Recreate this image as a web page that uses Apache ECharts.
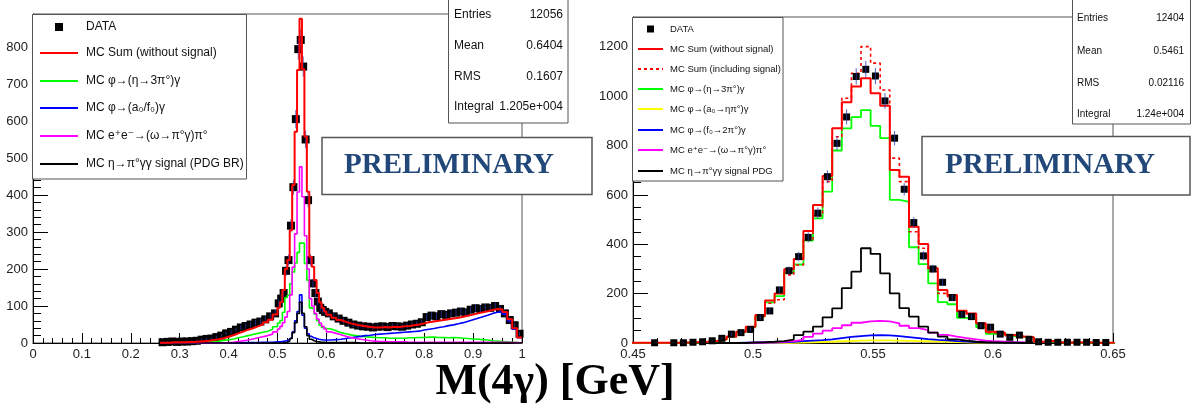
<!DOCTYPE html>
<html>
<head>
<meta charset="utf-8">
<script src="https://cdn.jsdelivr.net/npm/echarts@6/dist/echarts.min.js"></script>
<style>
  html, body { margin: 0; padding: 0; background: #fff; }
  #chart { width: 1198px; height: 405px; }
</style>
</head>
<body>
<div id="chart"></div>
<script>
// ---- left panel: full M(4g) range, finer bins around the eta peak ----
const leftEdges = [
  0.26, 0.27, 0.28, 0.29, 0.30, 0.31, 0.32, 0.33, 0.34, 0.35, 0.36, 0.37, 0.38,
  0.39, 0.40, 0.41, 0.42, 0.43, 0.44, 0.45, 0.46, 0.47, 0.48, 0.49, 0.50,
  0.505, 0.51, 0.515, 0.52, 0.525, 0.53, 0.535, 0.54, 0.545, 0.55,
  0.555, 0.56, 0.565, 0.57, 0.575, 0.58, 0.585, 0.59, 0.595, 0.60,
  0.61, 0.62, 0.63, 0.64, 0.65, 0.66, 0.67, 0.68, 0.69, 0.70,
  0.71, 0.72, 0.73, 0.74, 0.75, 0.76, 0.77, 0.78, 0.79, 0.80,
  0.81, 0.82, 0.83, 0.84, 0.85, 0.86, 0.87, 0.88, 0.89, 0.90,
  0.91, 0.92, 0.93, 0.94, 0.95, 0.96, 0.97, 0.98, 0.99, 1.00
];
const leftData = [
  2, 3, 4, 3, 4, 4, 5, 6, 9, 11, 12, 16, 20, 26, 30, 36, 42, 46, 50, 55, 58, 64, 72, 80,
  107, 120, 135, 195, 224, 317, 421, 605, 794, 819, 747, 550, 386, 224, 161, 135, 112, 95, 89, 84,
  80, 72, 66, 60, 55, 50, 47, 45, 44, 42, 44, 45, 43, 46, 45, 44, 47, 50, 52, 56,
  70, 74, 72, 78, 76, 80, 82, 85, 83, 90, 94, 92, 96, 95, 100, 92, 80, 62, 48, 25
];
const leftSum = [
  1, 1, 2, 2, 2, 3, 3, 4, 5, 6, 8, 10, 13, 17, 21, 26, 31, 36, 40, 45, 50, 56, 63, 77,
  95, 110, 143, 200, 224, 305, 427, 571, 738, 876, 740, 558, 409, 233, 206, 170, 135, 110, 95, 85,
  76, 68, 62, 57, 53, 50, 47, 45, 43, 42, 42, 43, 42, 44, 43, 45, 46, 48, 50, 53,
  56, 58, 60, 62, 64, 66, 68, 71, 74, 77, 80, 83, 86, 89, 92, 91, 84, 64, 40, 15
];
const leftEta3pi = [
  0, 0, 0, 0, 0, 0, 0, 1, 2, 3, 4, 5, 7, 9, 11, 14, 17, 20, 23, 26, 29, 32, 37, 44,
  54, 61, 83, 123, 129, 160, 192, 216, 245, 270, 270, 215, 170, 95, 92, 78, 60, 48, 42, 39,
  38, 33, 28, 25, 22, 20, 18, 17, 16, 15, 14, 14, 13, 13, 13, 13, 14, 14, 15, 15,
  16, 16, 15, 15, 14, 15, 14, 13, 12, 11, 10, 9, 8, 6, 5, 4, 3, 2, 1, 0
];
const leftA0f0 = [
  0, 0, 0, 0, 0, 0, 0, 0, 0, 0, 0, 0, 0, 0, 0, 0, 1, 1, 1, 1, 2, 2, 2, 3,
  3, 4, 5, 7, 10, 15, 30, 60, 85, 130, 75, 40, 25, 18, 14, 12, 10, 9, 8, 8,
  8, 9, 10, 12, 14, 16, 18, 20, 21, 23, 24, 25, 26, 27, 28, 29, 30, 31, 32, 35,
  37, 39, 42, 44, 47, 49, 52, 55, 59, 63, 67, 71, 75, 80, 83, 84, 78, 60, 37, 14
];
const leftOmega = [
  0, 0, 0, 0, 0, 0, 0, 0, 0, 0, 0, 0, 0, 1, 2, 4, 6, 8, 11, 14, 17, 20, 24, 30,
  38, 45, 55, 70, 85, 130, 205, 295, 408, 476, 395, 290, 200, 120, 100, 80, 65, 54, 45, 38,
  30, 26, 22, 18, 15, 12, 10, 8, 6, 5, 4, 4, 3, 3, 3, 3, 2, 2, 2, 2,
  2, 2, 2, 2, 2, 2, 2, 2, 2, 2, 2, 2, 2, 2, 2, 2, 2, 1, 1, 0
];
const leftSignal = [
  0, 0, 0, 0, 0, 0, 0, 0, 0, 0, 0, 0, 0, 0, 0, 0, 0, 0, 0, 0, 0, 0, 0, 0,
  0, 0, 1, 2, 5, 12, 28, 55, 80, 110, 80, 44, 20, 10, 6, 4, 3, 2, 2, 1,
  1, 1, 1, 1, 1, 1, 0, 0, 0, 0, 0, 0, 0, 0, 0, 0, 0, 0, 0, 0,
  0, 0, 0, 0, 0, 0, 0, 0, 0, 0, 0, 0, 0, 0, 0, 0, 0, 0, 0, 0
];

// ---- right panel: zoom on the eta peak, 0.004 wide bins ----
const rightBinStart = 0.449;
const rightBinWidth = 0.004;
const rightData = [
  0, 0, 1, 0, 1, 1, 3, 5, 9, 19, 36, 42, 55, 103, 130, 215, 293, 350, 428, 526,
  674, 809, 916, 1080, 1109, 1082, 981, 830, 623, 488, 353, 300, 246, 184, 116, 107, 70, 64, 36, 23,
  32, 15, 5, 3, 3, 3, 3, 3, 2, 2, 0
];
const rightSum = [
  1, 1, 1, 1, 1, 2, 3, 5, 8, 15, 26, 46, 66, 113, 172, 201, 299, 340, 454, 559,
  677, 870, 976, 1039, 1073, 1012, 961, 701, 674, 471, 401, 303, 215, 195, 131, 120, 80, 46, 42, 32,
  26, 23, 5, 8, 2, 2, 2, 2, 1, 1, 1
];
const rightSumSignal = [
  1, 1, 1, 1, 1, 2, 3, 5, 8, 15, 25, 45, 62, 108, 161, 175, 276, 316, 420, 516,
  654, 836, 992, 1093, 1201, 1134, 1025, 749, 654, 451, 384, 290, 201, 188, 123, 114, 74, 42, 40, 30,
  25, 22, 5, 7, 2, 2, 2, 2, 1, 1, 1
];
const rightEta3pi = [
  0, 0, 0, 0, 1, 1, 2, 4, 7, 14, 25, 44, 63, 108, 165, 190, 285, 318, 415, 505,
  613, 780, 870, 915, 944, 880, 830, 580, 572, 388, 320, 242, 166, 157, 102, 97, 64, 37, 36, 28,
  24, 22, 4, 6, 2, 1, 1, 1, 1, 0, 0
];
const rightA0 = [
  0, 0, 0, 0, 0, 0, 0, 0, 0, 0, 0, 0, 0, 0, 0, 0, 1, 2, 3, 4,
  5, 7, 8, 10, 11, 11, 11, 10, 9, 8, 7, 6, 5, 4, 3, 2, 2, 1, 1, 1,
  0, 0, 0, 0, 0, 0, 0, 0, 0, 0, 0
];
const rightF0 = [
  0, 0, 0, 0, 0, 0, 0, 0, 0, 0, 0, 1, 1, 2, 2, 3, 5, 8, 10, 12,
  15, 20, 25, 28, 31, 32, 31, 28, 24, 20, 16, 13, 11, 8, 6, 4, 3, 2, 2, 1,
  1, 1, 1, 0, 0, 0, 0, 0, 0, 0, 0
];
const rightOmega = [
  0, 0, 0, 0, 0, 0, 0, 0, 0, 0, 0, 0, 1, 2, 3, 5, 8, 14, 25, 38,
  50, 60, 72, 82, 88, 90, 88, 80, 70, 60, 52, 42, 33, 26, 20, 15, 10, 7, 5, 3,
  2, 1, 1, 1, 1, 0, 0, 0, 0, 0, 0
];
const rightSignal = [
  0, 0, 0, 0, 0, 0, 0, 0, 0, 0, 0, 0, 2, 3, 5, 8, 14, 32, 46, 66,
  104, 140, 222, 289, 384, 361, 282, 201, 141, 107, 66, 42, 26, 15, 10, 5, 3, 2, 1, 1,
  0, 0, 0, 0, 0, 0, 0, 0, 0, 0, 0
];

const leftStats = [["Entries", "12056"], ["Mean", "0.6404"], ["RMS", "0.1607"], ["Integral", "1.205e+004"]];
const rightStats = [["Entries", "12404"], ["Mean", "0.5461"], ["RMS", "0.02116"], ["Integral", "1.24e+004"]];

const RED = "#ff0000", GREEN = "#00ff00", BLUE = "#0000ff", MAGENTA = "#ff00ff", YELLOW = "#ffff00", BLACK = "#000000";

const leftLegend = [
  { text: "DATA", marker: true },
  { text: "MC Sum (without signal)", color: RED },
  { text: "MC \u03c6\u2192(\u03b7\u21923\u03c0\u00b0)\u03b3", color: GREEN },
  { text: "MC \u03c6\u2192(a\u2080/f\u2080)\u03b3", color: BLUE },
  { text: "MC e\u207ae\u207b\u2192(\u03c9\u2192\u03c0\u00b0\u03b3)\u03c0\u00b0", color: MAGENTA },
  { text: "MC \u03b7\u2192\u03c0\u00b0\u03b3\u03b3 signal (PDG BR)", color: BLACK }
];
const rightLegend = [
  { text: "DATA", marker: true },
  { text: "MC Sum (without signal)", color: RED },
  { text: "MC Sum (including signal)", color: RED, dashed: true },
  { text: "MC \u03c6\u2192(\u03b7\u21923\u03c0\u00b0)\u03b3", color: GREEN },
  { text: "MC \u03c6\u2192(a\u2080\u2192\u03b7\u03c0\u00b0)\u03b3", color: YELLOW },
  { text: "MC \u03c6\u2192(f\u2080\u21922\u03c0\u00b0)\u03b3", color: BLUE },
  { text: "MC e\u207ae\u207b\u2192(\u03c9\u2192\u03c0\u00b0\u03b3)\u03c0\u00b0", color: MAGENTA },
  { text: "MC \u03b7\u2192\u03c0\u00b0\u03b3\u03b3 signal PDG", color: BLACK }
];

// bin edges of the right histogram
const rightEdges = [];
for (let i = 0; i <= rightData.length; i++) {
  rightEdges.push(+(rightBinStart + i * rightBinWidth).toFixed(4));
}

function histPoints(edges, values) {
  const pts = values.map((v, i) => [edges[i], v]);
  pts.push([edges[edges.length - 1], values[values.length - 1]]);
  return pts;
}
function binCenters(edges) {
  return edges.slice(0, -1).map((e, i) => (e + edges[i + 1]) / 2);
}

function hist(panel, edges, values, color, width, dash, z) {
  return {
    type: "line",
    xAxisIndex: panel,
    yAxisIndex: panel,
    step: "end",
    data: histPoints(edges, values),
    showSymbol: false,
    silent: true,
    z: z,
    lineStyle: { color: color, width: width, type: dash || "solid" }
  };
}

function dataPoints(panel, edges, values, z, size) {
  const c = binCenters(edges);
  const pts = [];
  c.forEach((x, i) => { if (values[i] > 0) pts.push([x, values[i]]); });
  return [
    {
      type: "scatter",
      xAxisIndex: panel,
      yAxisIndex: panel,
      silent: true,
      z: z,
      symbol: "rect",
      symbolSize: size,
      itemStyle: { color: "#000", opacity: 1 },
      data: pts
    },
    {
      // poisson error bars on the data points
      type: "custom",
      xAxisIndex: panel,
      yAxisIndex: panel,
      silent: true,
      z: z + 1,
      clip: true,
      data: pts.map(p => [p[0], p[1], Math.sqrt(p[1])]),
      renderItem: function (params, api) {
        const top = api.coord([api.value(0), api.value(1) + api.value(2)]);
        const bot = api.coord([api.value(0), api.value(1) - api.value(2)]);
        return {
          type: "line",
          shape: { x1: top[0], y1: top[1], x2: bot[0], y2: bot[1] },
          style: { stroke: "#2a3aa8", lineWidth: 1, opacity: 0.8 }
        };
      }
    }
  ];
}

const labelFont = { color: "#222", fontSize: 13, fontFamily: "Liberation Sans" };
const plainNumber = v => String(+v.toFixed(4));

function xAxisCfg(grid, min, max, interval) {
  return {
    type: "value", gridIndex: grid, min: min, max: max, interval: interval,
    axisLine: { lineStyle: { color: "#000", width: 1 } },
    axisTick: { inside: true, length: 10, lineStyle: { color: "#000" } },
    minorTick: { show: true, splitNumber: 5, length: 5, lineStyle: { color: "#000" } },
    splitLine: { show: false },
    axisLabel: Object.assign({ margin: 5, showMinLabel: true, showMaxLabel: true, formatter: plainNumber }, labelFont)
  };
}
function yAxisCfg(grid, max, interval, minorSplit) {
  return {
    type: "value", gridIndex: grid, min: 0, max: max, interval: interval,
    axisLine: { show: true, lineStyle: { color: "#000", width: 1 } },
    axisTick: { show: true, inside: true, length: 15, lineStyle: { color: "#000" } },
    minorTick: { show: true, splitNumber: minorSplit, length: 8, lineStyle: { color: "#000" } },
    splitLine: { show: false },
    axisLabel: Object.assign({ margin: 5, showMaxLabel: false, formatter: plainNumber }, labelFont)
  };
}

// ---- overlay boxes (legends, stats, PRELIMINARY), ROOT style ----
const graphics = [];
function box(x, y, w, h, lw) {
  graphics.push({
    type: "rect", z: 100, silent: true,
    shape: { x: x, y: y, width: w, height: h },
    style: { fill: "#fff", stroke: "#555", lineWidth: lw || 1 }
  });
}
function label(text, x, y, font, align, color) {
  graphics.push({
    type: "text", z: 101, silent: true,
    style: {
      text: text, x: x, y: y, font: font, fill: color || "#111",
      textAlign: align || "left", textVerticalAlign: "middle",
      align: align || "left", verticalAlign: "middle"
    }
  });
}
function sample(entry, x1, x2, y, size) {
  if (entry.marker) {
    graphics.push({
      type: "rect", z: 101, silent: true,
      shape: { x: (x1 + x2) / 2 - size / 2, y: y - size / 2, width: size, height: size },
      style: { fill: "#000" }
    });
  } else {
    graphics.push({
      type: "line", z: 101, silent: true,
      shape: { x1: x1, y1: y, x2: x2, y2: y },
      style: { stroke: entry.color, lineWidth: 2, lineDash: entry.dashed ? [3, 3] : null }
    });
  }
}

// left legend
box(32.5, 14.5, 214, 164.5);
const leftRows = [27, 53, 81, 108, 136, 164];
leftLegend.forEach((e, i) => {
  sample(e, 40, 78, leftRows[i], 8);
  label(e.text, 86, leftRows[i], '12px "Liberation Sans", "DejaVu Sans"');
});
// right legend
box(632.5, 17.5, 150.5, 163.5);
const rightRows = [29, 49, 69, 89, 109, 130, 150, 171];
rightLegend.forEach((e, i) => {
  sample(e, 638, 663, rightRows[i], 7);
  label(e.text, 670, rightRows[i], '9.5px "Liberation Sans", "DejaVu Sans"');
});
// stats boxes
box(448.5, -2, 119.5, 125);
[15, 46, 77, 107].forEach((y, i) => {
  label(leftStats[i][0], 454, y, '12px "Liberation Sans"');
  label(leftStats[i][1], 563, y, '12px "Liberation Sans"', "right");
});
box(1072.5, -2, 118, 126);
[18, 51, 83, 114].forEach((y, i) => {
  label(rightStats[i][0], 1077, y, '10px "Liberation Sans"');
  label(rightStats[i][1], 1184, y, '10px "Liberation Sans"', "right");
});
// PRELIMINARY stamps
box(322, 137.5, 270, 57, 1.5);
label("PRELIMINARY", 449, 166, 'bold 29px "Liberation Serif"', "center", "#22487a");
box(922, 136.5, 268, 58.5, 1.5);
label("PRELIMINARY", 1050, 166, 'bold 29px "Liberation Serif"', "center", "#22487a");
// common x axis title
label("M(4\u03b3) [GeV]", 555, 383, 'bold 44px "Liberation Serif", "DejaVu Serif"', "center", "#000");

const option = {
  animation: false,
  backgroundColor: "#fff",
  grid: [
    { left: 33, top: 14, width: 489, height: 329, show: true, borderColor: "#555", borderWidth: 1, backgroundColor: "transparent" },
    { left: 633, top: 17, width: 480, height: 326, show: true, borderColor: "#555", borderWidth: 1, backgroundColor: "transparent" }
  ],
  xAxis: [xAxisCfg(0, 0, 1, 0.1), xAxisCfg(1, 0.45, 0.65, 0.05)],
  yAxis: [yAxisCfg(0, 889, 100, 5), yAxisCfg(1, 1321, 200, 4)],
  series: [].concat(
    dataPoints(0, leftEdges, leftData, 2, 8),
    [
      hist(0, leftEdges, leftEta3pi, GREEN, 1.6, null, 4),
      hist(0, leftEdges, leftA0f0, BLUE, 1.6, null, 5),
      hist(0, leftEdges, leftOmega, MAGENTA, 1.6, null, 6),
      hist(0, leftEdges, leftSignal, BLACK, 1.6, null, 7),
      hist(0, leftEdges, leftSum, RED, 2, null, 8),

      hist(1, rightEdges, rightA0, YELLOW, 1.8, null, 3),
      hist(1, rightEdges, rightF0, BLUE, 1.8, null, 3),
      hist(1, rightEdges, rightOmega, MAGENTA, 1.8, null, 3),
      hist(1, rightEdges, rightSignal, BLACK, 1.8, null, 4),
      hist(1, rightEdges, rightEta3pi, GREEN, 1.8, null, 5),
      hist(1, rightEdges, rightSumSignal, RED, 1.6, [3, 3], 6),
      hist(1, rightEdges, rightSum, RED, 2, null, 7)
    ],
    dataPoints(1, rightEdges, rightData, 8, 7)
  ),
  graphic: graphics
};

const chart = echarts.init(document.getElementById("chart"));
chart.setOption(option);
</script>
</body>
</html>
